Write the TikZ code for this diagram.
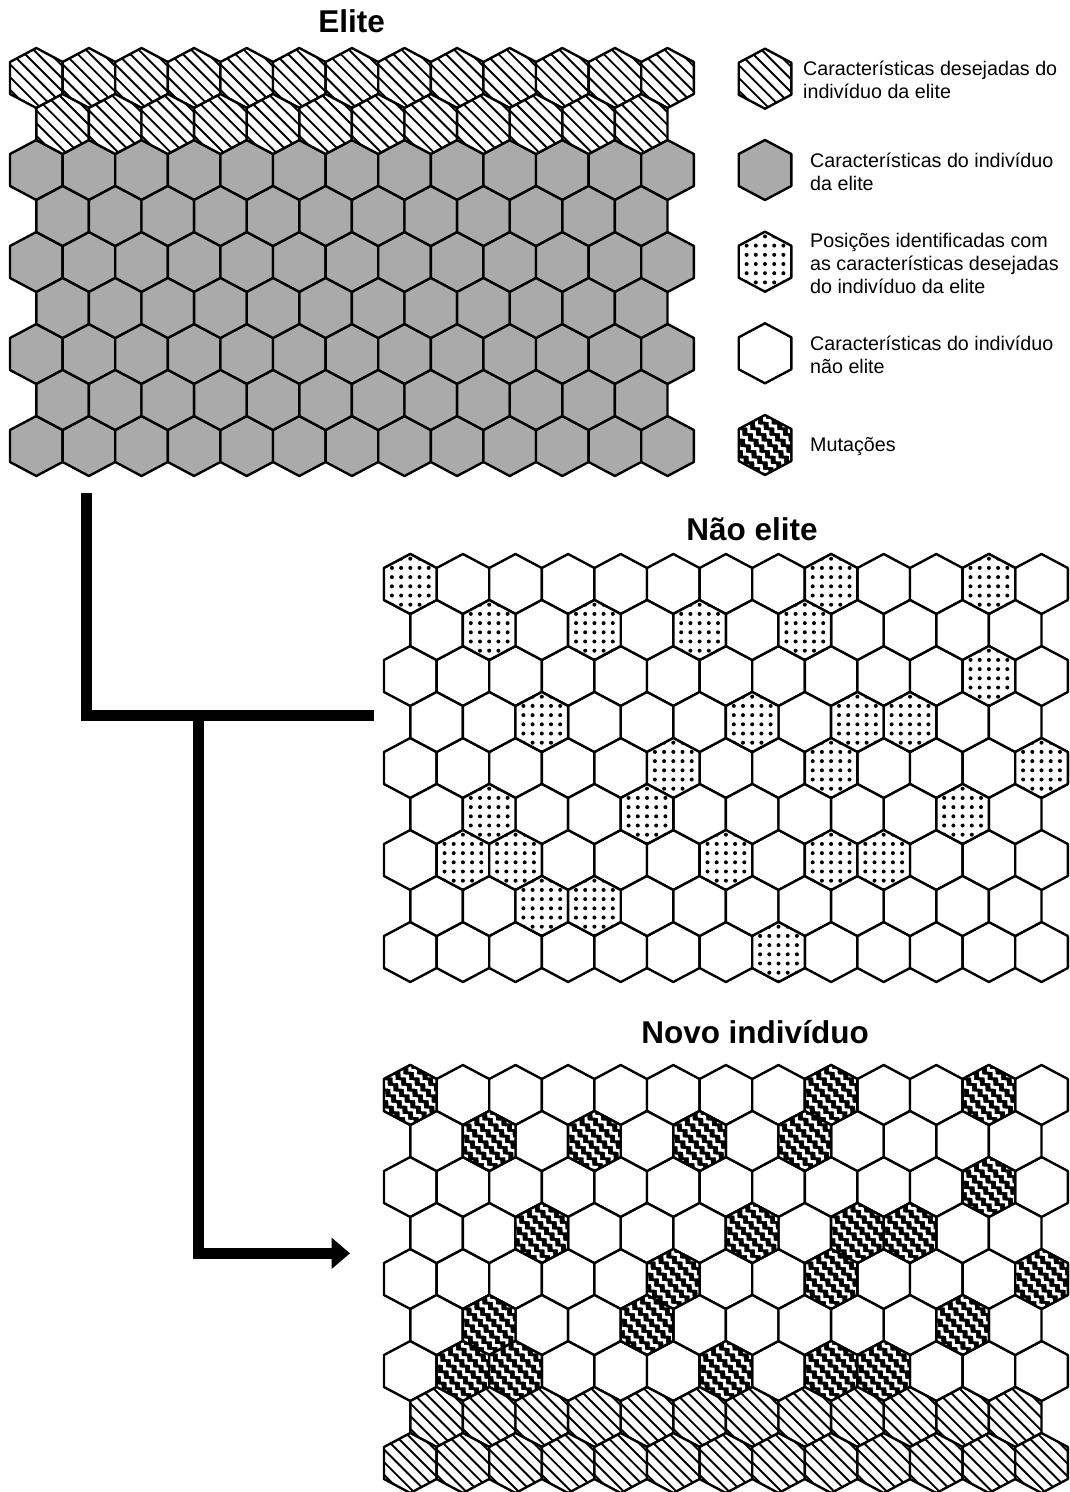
\documentclass[tikz,border=0pt]{standalone}
\usepackage{fontspec}
\setmainfont{Liberation Sans}
\usetikzlibrary{arrows.meta,decorations.pathmorphing}
\definecolor{elitegray}{RGB}{170,170,170}

\tikzset{
  hexline/.style={draw=black,line width=2.4pt,line join=round},
  hatchline/.style={black,line width=1.9pt},
  mutline/.style={white,line width=3pt,decorate,
    decoration={zigzag,segment length=8pt,amplitude=1.8pt}},
  conn/.style={line width=11pt,line join=miter,line cap=butt},
  title/.style={font=\fontsize{31.5}{36}\selectfont\bfseries,anchor=base,inner sep=0pt},
  legtext/.style={font=\fontsize{19.7}{23.3}\selectfont,anchor=west,align=left,inner sep=0pt}
}

% pointy-top hexagon around the origin
\def\hexshape{(0,-30) -- (26.3,-16) -- (26.3,16) -- (0,30) -- (-26.3,16) -- (-26.3,-16) -- cycle}

\newcommand\cellplain[2]{\draw[hexline,fill=white,shift={(#1,#2)}] \hexshape;}
\newcommand\cellgray[2]{\draw[hexline,fill=elitegray,shift={(#1,#2)}] \hexshape;}
\newcommand\cellhatch[2]{%
  \begin{scope}[shift={(#1,#2)}]
    \begin{scope}
      \clip \hexshape;
      \fill[white] (-30,-32) rectangle (30,32);
      \foreach \k in {-5,...,5}{\draw[hatchline] ({\k*12.7-34},-34) -- ({\k*12.7+34},34);}
    \end{scope}
    \draw[hexline] \hexshape;
  \end{scope}}
\newcommand\celldots[2]{%
  \begin{scope}[shift={(#1,#2)}]
    \begin{scope}
      \clip \hexshape;
      \fill[white] (-30,-32) rectangle (30,32);
      \foreach \i in {-3,...,3}{\foreach \j in {-4,...,3}{\fill ({\i*9.2},{(\j+0.25)*9.2}) circle (2.0);}}
    \end{scope}
    \draw[hexline] \hexshape;
  \end{scope}}
\newcommand\cellmut[2]{%
  \begin{scope}[shift={(#1,#2)}]
    \begin{scope}
      \clip \hexshape;
      \fill[black] (-30,-32) rectangle (30,32);
      \foreach \k in {-5,...,5}{\draw[mutline] ({\k*13.5-36},-36) -- ({\k*13.5+36},36);}
    \end{scope}
    \draw[hexline] \hexshape;
  \end{scope}}

\begin{document}
\begin{tikzpicture}[x=1pt,y=-1pt]
\useasboundingbox (0,0) rectangle (1069,1492);

% ---------- Elite grid ----------
\node[title] (elitetitle) at (351.7,32.7) {Elite};
\foreach \r in {0,2,4,6,8}{
  \foreach \i in {0,...,12}{
    \ifnum\r=0 \cellhatch{36.3+52.6*\i}{78+46*\r}\else \cellgray{36.3+52.6*\i}{78+46*\r}\fi
  }}
\foreach \r in {1,3,5,7}{
  \foreach \i in {0,...,11}{
    \ifnum\r=1 \cellhatch{62.6+52.6*\i}{78+46*\r}\else \cellgray{62.6+52.6*\i}{78+46*\r}\fi
  }}

% ---------- Legend ----------
\cellhatch{765}{78.7}
\node[legtext] (leg1) at (803,80) {Características desejadas do\\indivíduo da elite};
\cellgray{765}{170}
\node[legtext] (leg2) at (810,171.7) {Características do indivíduo\\da elite};
\celldots{765}{261.7}
\node[legtext] (leg3) at (810,263.3) {Posições identificadas com\\as características desejadas\\do indivíduo da elite};
\cellplain{765}{353.3}
\node[legtext] (leg4) at (810,355) {Características do indivíduo\\não elite};
\cellmut{765}{445}
\node[legtext] (leg5) at (810,446.7) {Mutações};

% ---------- Não elite grid ----------
\node[title] (naotitle) at (752,540) {Não elite};
\foreach \r in {0,2,4,6,8}{\foreach \i in {0,...,12}{\cellplain{410.3+52.6*\i}{584+46*\r}}}
\foreach \r in {1,3,5,7}{\foreach \i in {0,...,11}{\cellplain{436.6+52.6*\i}{584+46*\r}}}
\foreach \r/\c in {0/0,0/8,0/11,1/1,1/3,1/5,1/7,2/11,3/2,3/6,3/8,3/9,
                   4/5,4/8,4/12,5/1,5/4,5/10,6/1,6/2,6/6,6/8,6/9,7/2,7/3,8/7}{
  \pgfmathsetmacro\cx{410.3+52.6*\c+26.3*mod(\r,2)}
  \celldots{\cx}{584+46*\r}}

% ---------- Novo indivíduo grid ----------
\node[title] (novotitle) at (755,1043.3) {Novo indivíduo};
\foreach \r in {0,2,4,6}{\foreach \i in {0,...,12}{\cellplain{410.3+52.6*\i}{1095+46*\r}}}
\foreach \r in {1,3,5}{\foreach \i in {0,...,11}{\cellplain{436.6+52.6*\i}{1095+46*\r}}}
\foreach \r/\c in {0/0,0/8,0/11,1/1,1/3,1/5,1/7,2/11,3/2,3/6,3/8,3/9,
                   4/5,4/8,4/12,5/1,5/4,5/10,6/1,6/2,6/6,6/8,6/9}{
  \pgfmathsetmacro\cx{410.3+52.6*\c+26.3*mod(\r,2)}
  \cellmut{\cx}{1095+46*\r}}
\foreach \i in {0,...,11}{\cellhatch{436.6+52.6*\i}{1095+46*7}}
\foreach \i in {0,...,12}{\cellhatch{410.3+52.6*\i}{1095+46*8}}

% ---------- Connectors ----------
\coordinate (elitefoot) at (86.2,492.7);
\coordinate (naoentry) at (374,715);
\coordinate (fork) at (198,715);
\coordinate (novoentry) at (350,1253.3);
\draw[conn] (elitefoot) |- (naoentry);
\draw[conn,-{Triangle[length=18.3pt,width=30pt]}] (fork) |- (novoentry);
\end{tikzpicture}
\end{document}
